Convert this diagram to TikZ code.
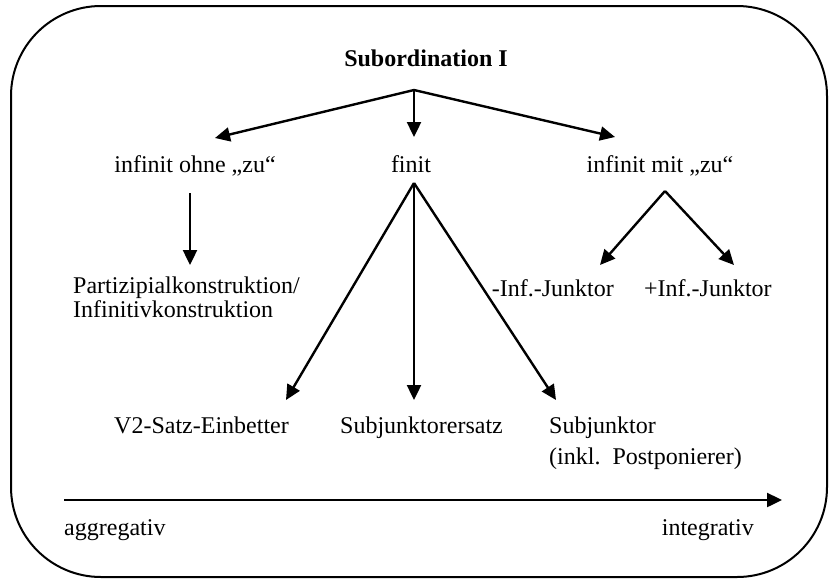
\documentclass[tikz,border=0pt]{standalone}
\usepackage{fontspec}
\setmainfont{Liberation Serif}
\usetikzlibrary{arrows.meta}
\tikzset{
  lbl/.style={inner sep=0pt, anchor=base, font=\fontsize{24}{28}\selectfont},
  lbll/.style={lbl, anchor=base west},
  conn/.style={line width=2.4pt, -{Triangle[length=15pt,width=14pt]}},
  frame/.style={line width=2pt, rounded corners=90pt}
}
\begin{document}
\begin{tikzpicture}[x=1pt,y=-1pt]
\useasboundingbox (0,0) rectangle (832,579);
\draw[frame] (11,6) rectangle (827,577);
% labels
\node[lbl, font=\fontsize{24}{28}\selectfont\bfseries] (title) at (426,66) {Subordination I};
\node[lbl] (ohne) at (195,172) {infinit ohne „zu“};
\node[lbl] (finit) at (411,172) {finit};
\node[lbl] (mit) at (660,172) {infinit mit „zu“};
\node[lbll] (part) at (73,293) {Partizipialkonstruktion/};
\node[lbll] (inf) at (73,317) {Infinitivkonstruktion};
\node[lbl, anchor=base east] (minus) at (614,296) {-Inf.-Junktor};
\node[lbll] (plus) at (644,296) {+Inf.-Junktor};
\node[lbll] (v2) at (114,433) {V2-Satz-Einbetter};
\node[lbll] (ersatz) at (340,433) {Subjunktorersatz};
\node[lbll] (subj) at (549,433) {Subjunktor};
\node[lbll] (inkl) at (549,464) {(inkl.\ \ Postponierer)};
\node[lbll] (aggr) at (64,535) {aggregativ};
\node[lbl, anchor=base east] (integr) at (754,535) {integrativ};
% coordinates
\coordinate (apex) at (414,90);
\coordinate (tohne) at (215,138);
\coordinate (tfinit) at (414,137);
\coordinate (tmit) at (615,137);
\coordinate (sohne) at (190,193);
\coordinate (tpart) at (190,265);
\coordinate (sfinit) at (414,183);
\coordinate (tv2) at (286,400);
\coordinate (tersatz) at (414,400);
\coordinate (tsubj) at (556,400);
\coordinate (smit) at (665,191);
\coordinate (tminus) at (600,265);
\coordinate (tplus) at (734,265);
\coordinate (axs) at (64,500);
\coordinate (axe) at (782,500);
% connectors
\draw[conn] (apex) -- (tohne);
\draw[conn] (apex) -- (tfinit);
\draw[conn] (apex) -- (tmit);
\draw[conn] (sohne) -- (tpart);
\draw[conn] (sfinit) -- (tv2);
\draw[conn] (sfinit) -- (tersatz);
\draw[conn] (sfinit) -- (tsubj);
\draw[conn] (smit) -- (tminus);
\draw[conn] (smit) -- (tplus);
\draw[conn] (axs) -- (axe);
\end{tikzpicture}
\end{document}
